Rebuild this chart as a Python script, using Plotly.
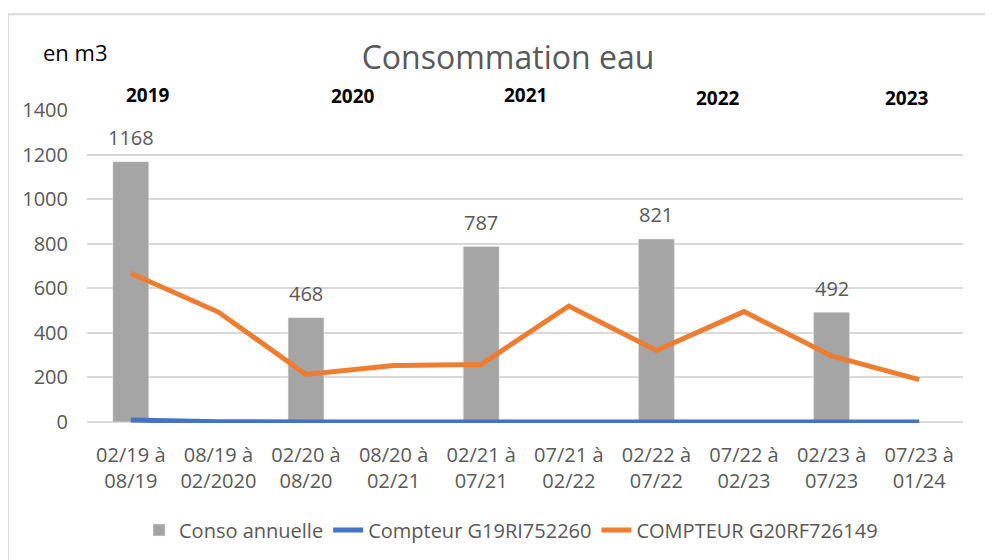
import plotly.graph_objects as go

# Données
periodes = ['02/19 à<br>08/19', '08/19 à<br>02/2020', '02/20 à<br>08/20',
            '08/20 à<br>02/21', '02/21 à<br>07/21', '07/21 à<br>02/22',
            '02/22 à<br>07/22', '07/22 à<br>02/23', '02/23 à<br>07/23',
            '07/23 à<br>01/24']
conso_annuelle = [1168, None, 468, None, 787, None, 821, None, 492, None]
compteur_g19 = [8, 1, 0, 0, 0, 0, 0, 0, 0, 0]
compteur_g20 = [667, 493, 213, 253, 258, 520, 320, 495, 296, 190]
annees = ['2019', '2020', '2021', '2022', '2023']

FONT = 'Open Sans'
GRIS_TEXTE = '#595959'
OFF = 8  # marge du <body> dans la page html
W, H = 993 - OFF, 560 - OFF
# zone de tracé en pixels (coordonnées de l'écran)
PL, PR, PT, PB = 87, 963, 110, 424


def px_x(x):
    return (x - PL) / (PR - PL)


def px_y(y):
    return (PB - y) / (PB - PT)


fig = go.Figure()

# 1. Barres conso annuelle
fig.add_trace(go.Bar(
    x=periodes,
    y=conso_annuelle,
    name='Conso annuelle',
    marker_color='#A5A5A5',
    width=0.41,
))

# étiquettes de valeurs au-dessus des barres
for p, v in zip(periodes, conso_annuelle):
    if v is None:
        continue
    fig.add_annotation(
        x=p, y=v, xref='x', yref='y', text=f'{v}', showarrow=False,
        yshift=24, yanchor='middle',
        font=dict(family=FONT, size=20, color=GRIS_TEXTE),
    )

# 2. Compteurs
fig.add_trace(go.Scatter(
    x=periodes, y=compteur_g19, mode='lines',
    name='Compteur G19RI752260',
    line=dict(color='#4472C4', width=5),
))
fig.add_trace(go.Scatter(
    x=periodes, y=compteur_g20, mode='lines',
    name='COMPTEUR G20RF726149',
    line=dict(color='#ED7D31', width=5),
))

# années en gras au-dessus du graphique
pos_annees = [(148, 95), (353, 96), (525, 95), (718, 98), (907, 98)]
for txt, (ax, ay) in zip(annees, pos_annees):
    fig.add_annotation(
        x=px_x(ax), y=px_y(ay), xref='paper', yref='paper',
        text=f'<b>{txt}</b>', showarrow=False,
        xanchor='center', yanchor='middle',
        font=dict(family=FONT, size=19, color='black'),
    )

# unité
fig.add_annotation(
    x=px_x(75), y=px_y(52), xref='paper', yref='paper',
    text='en m3', showarrow=False, xanchor='center', yanchor='middle',
    font=dict(family=FONT, size=22, color='black'),
)

# cadre du graphique
fig.add_shape(
    type='rect', xref='paper', yref='paper',
    x0=px_x(8), x1=px_x(1010), y0=px_y(580), y1=px_y(14),
    line=dict(color='#D9D9D9', width=2), fillcolor='rgba(0,0,0,0)',
    layer='below',
)

fig.update_layout(
    width=W, height=H,
    margin=dict(l=PL - OFF, r=W + OFF - PR, t=PT - OFF, b=H + OFF - PB),
    paper_bgcolor='white', plot_bgcolor='white',
    font=dict(family=FONT, size=20, color=GRIS_TEXTE),
    title=dict(
        text='Consommation eau', x=(508 - OFF) / W, y=1 - (58 - OFF) / H,
        xanchor='center', yanchor='middle',
        font=dict(family=FONT, size=32, color=GRIS_TEXTE),
    ),
    showlegend=True,
    legend=dict(
        orientation='h', x=px_x(511), y=px_y(530),
        xanchor='center', yanchor='middle',
        font=dict(family=FONT, size=20, color=GRIS_TEXTE),
    ),
    hovermode=False,
)

fig.update_yaxes(
    range=[-5, 1400], dtick=200, tick0=0,
    showgrid=True, gridcolor='#D9D9D9', gridwidth=2,
    zeroline=True, zerolinecolor='#D9D9D9', zerolinewidth=2,
    showline=False, ticks='', ticklabelstandoff=18,
    tickfont=dict(family=FONT, size=20, color=GRIS_TEXTE),
)
fig.update_xaxes(
    showgrid=False, showline=False, ticks='',
    tickfont=dict(family=FONT, size=20, color=GRIS_TEXTE),
    ticklabelstandoff=18,
)

fig.write_html('out.html', config={'displayModeBar': False})
